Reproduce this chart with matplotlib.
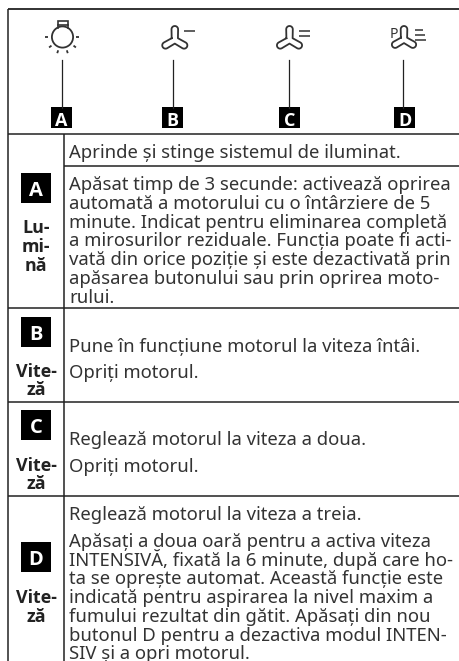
import numpy as np
import matplotlib.pyplot as plt
from matplotlib.patches import Circle, Rectangle

plt.rcParams['font.family'] = ['Noto Sans', 'DejaVu Sans']

# Text of the table
letters = ["A", "B", "C", "D"]
row_labels = [["Lu-", "mi-", "nă"], ["Vite-", "ză"], ["Vite-", "ză"], ["Vite-", "ză"]]
body_a1 = ["Aprinde și stinge sistemul de iluminat."]
body_a2 = ["Apăsat timp de 3 secunde: activează oprirea",
           "automată a motorului cu o întârziere de 5",
           "minute. Indicat pentru eliminarea completă",
           "a mirosurilor reziduale. Funcția poate fi acti-",
           "vată din orice poziție și este dezactivată prin",
           "apăsarea butonului sau prin oprirea moto-",
           "rului."]
body_b = ["Pune în funcțiune motorul la viteza întâi.", "Opriți motorul."]
body_c = ["Reglează motorul la viteza a doua.", "Opriți motorul."]
body_d1 = ["Reglează motorul la viteza a treia."]
body_d2 = ["Apăsați a doua oară pentru a activa viteza",
           "INTENSIVĂ, fixată la 6 minute, după care ho-",
           "ta se oprește automat. Această funcție este",
           "indicată pentru aspirarea la nivel maxim a",
           "fumului rezultat din gătit. Apăsați din nou",
           "butonul D pentru a dezactiva modul INTEN-",
           "SIV și a opri motorul."]

# Baselines (pixels from the top)
a1_y = [158]
a2_y = [190, 209, 228, 246, 265, 284, 303]
b_y = [352, 378]
c_y = [445, 472]
d1_y = [520]
d2_y = [547, 566, 584, 603, 622, 641, 659]
label_y = [[233, 252, 271], [377, 395], [471, 489], [603, 622]]

# Positions of header columns and of the row squares
stem_x = [61.7, 173.3, 288.7, 403.3]
square_x = [61.5, 172.7, 289.5, 404.7]
row_square_top = [173, 317, 410, 542]
row_lines = [134, 308, 402, 496]

W, H = 460, 661
INK = "#333333"
LINE = "#222222"
BODY_SIZE = 13.3

fig = plt.figure(figsize=(W / 100, H / 100), dpi=100)
ax = fig.add_axes([0, 0, 1, 1])
ax.set_xlim(0, W)
ax.set_ylim(H, 0)
ax.axis("off")


def hline(y, x0=8, x1=W, lw=1.1):
    ax.plot([x0, x1], [y, y], color=LINE, lw=lw, solid_capstyle="butt")


def fan(cx, cy, length=14.0, half=3.3, inner=3.6):
    # three capsule blades joined into one outline
    angles = np.deg2rad([-90, 30, 150])
    xs, ys = [], []
    for a in angles:
        start = a - np.pi / 3
        xs.append(cx + inner * np.cos(start))
        ys.append(cy + inner * np.sin(start))
        d = np.array([np.cos(a), np.sin(a)])
        t = np.linspace(a - np.pi / 2, a + np.pi / 2, 14)
        tip = np.array([cx, cy]) + d * (length - half)
        xs.extend(tip[0] + half * np.cos(t))
        ys.extend(tip[1] + half * np.sin(t))
    xs.append(xs[0])
    ys.append(ys[0])
    ax.plot(xs, ys, color=INK, lw=1.3, solid_joinstyle="round")


def dashes(x0, x1s, ys):
    for x1, y in zip(x1s, ys):
        ax.plot([x0, x1], [y, y], color=INK, lw=1.1, solid_capstyle="butt")


def put_lines(lines, ys, x=69):
    for s, y in zip(lines, ys):
        ax.text(x, y, s, fontsize=BODY_SIZE, color=INK, va="baseline", ha="left")


# Frame and rules
ax.plot([8, 8], [9, H], color="#444444", lw=1.3, solid_capstyle="butt")
hline(9, lw=1.3)
for y in row_lines:
    hline(y)
hline(165.5, x0=64)
ax.plot([64, 64], [134, H], color=LINE, lw=1.1, solid_capstyle="butt")

# Header stems and letter squares
for sx, qx, letter in zip(stem_x, square_x, letters):
    ax.plot([sx, sx], [60, 108], color=LINE, lw=0.9)
    ax.add_patch(Rectangle((qx - 10.5, 107), 21, 21, fc="black", ec="none"))
    ax.text(qx, 126, letter, color="white", fontsize=13, family="Open Sans", fontweight="bold", ha="center", va="baseline")

# Bulb icon
ax.add_patch(Circle((62.5, 37), 10.6, fc="none", ec=INK, lw=1.3))
ax.add_patch(Rectangle((58, 20.5), 10, 4.5, fc="none", ec=INK, lw=1.2))
ax.plot([58, 58], [25, 28], color=INK, lw=1.2)
ax.plot([68, 68], [25, 28], color=INK, lw=1.2)
for ang in (0, 180, 38, 142, 72, 108):
    a = np.deg2rad(ang)
    ax.plot([62.5 + 14 * np.cos(a), 62.5 + 17 * np.cos(a)],
            [37 + 14 * np.sin(a), 37 + 17 * np.sin(a)], color=INK, lw=1.3, solid_capstyle="butt")

# Fan icons
fan(174.8, 40)
dashes(184.5, [195], [31])
fan(289.5, 40)
dashes(299, [310, 310], [31, 35.5])
fan(404, 39.5, length=13.5)
ax.text(394, 38, "P", fontsize=10, color=INK, ha="center", va="baseline")
dashes(415, [423, 425, 426], [30, 35, 40])

# Row squares and bold labels
for top, letter, labels, ys in zip(row_square_top, letters, row_labels, label_y):
    ax.add_patch(Rectangle((21, top), 30, 30, fc="black", ec="none"))
    ax.text(36, top + 22.7, letter, color="white", fontsize=14.5, family="Open Sans", fontweight="bold", ha="center", va="baseline")
    for s, y in zip(labels, ys):
        ax.text(36, y, s, color=LINE, fontsize=12.9, family="Open Sans", fontweight="bold", ha="center", va="baseline")

# Body text
put_lines(body_a1, a1_y)
put_lines(body_a2, a2_y)
put_lines(body_b, b_y)
put_lines(body_c, c_y)
put_lines(body_d1, d1_y)
put_lines(body_d2, d2_y)

fig.savefig("out.png", dpi=100)
